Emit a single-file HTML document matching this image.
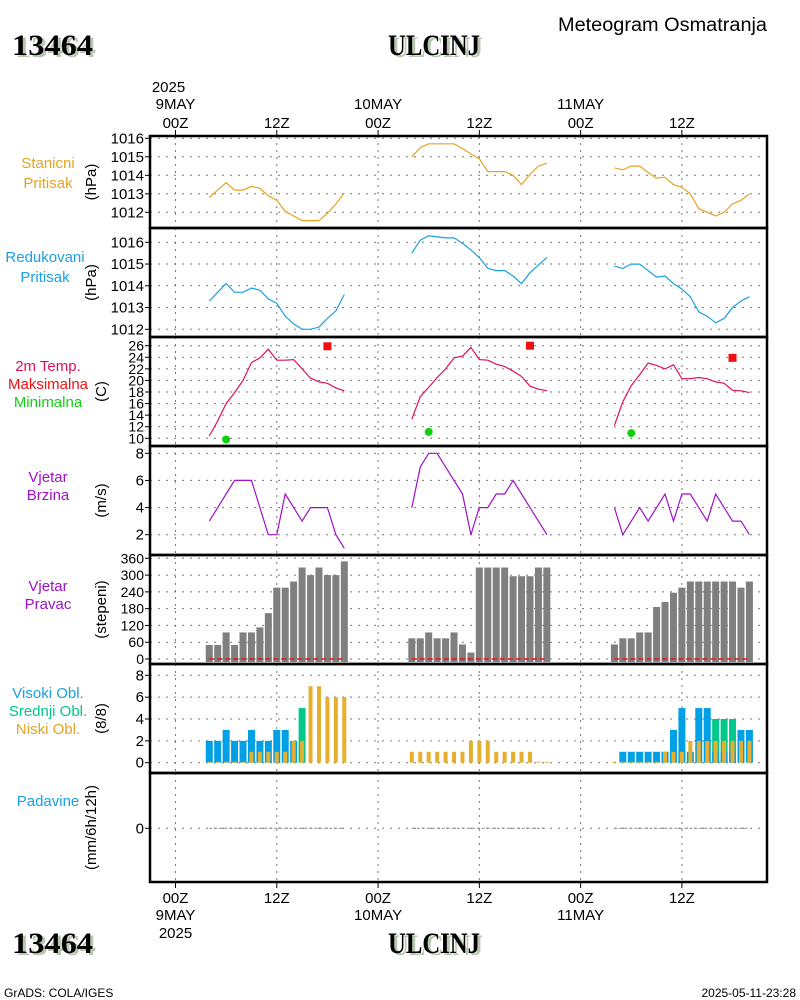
<!DOCTYPE html>
<html><head><meta charset="utf-8">
<style>
html,body{margin:0;padding:0;background:#fff;}
svg{display:block;font-family:"Liberation Sans Narrow","Liberation Sans",sans-serif;}
.tt{font-family:"Liberation Serif",serif;font-weight:bold;font-size:30px;}
</style></head>
<body>
<svg id="chart" width="800" height="1000" viewBox="0 0 800 1000" xmlns="http://www.w3.org/2000/svg">
<g>
<text x="15" y="57" class="tt" fill="#b8c8b0" textLength="81" lengthAdjust="spacingAndGlyphs">13464</text>
<text x="12" y="55" class="tt" fill="#000" textLength="81" lengthAdjust="spacingAndGlyphs">13464</text>
<text x="391" y="57" class="tt" fill="#b8c8b0" textLength="92" lengthAdjust="spacingAndGlyphs">ULCINJ</text>
<text x="388" y="55" class="tt" fill="#000" textLength="92" lengthAdjust="spacingAndGlyphs">ULCINJ</text>
<text x="558" y="31" font-size="19" fill="#000" textLength="209" lengthAdjust="spacingAndGlyphs">Meteogram Osmatranja</text>
</g>
<g id="g"></g>
<g>
<text x="15" y="955" class="tt" fill="#b8c8b0" textLength="81" lengthAdjust="spacingAndGlyphs">13464</text>
<text x="12" y="953" class="tt" fill="#000" textLength="81" lengthAdjust="spacingAndGlyphs">13464</text>
<text x="391" y="955" class="tt" fill="#b8c8b0" textLength="92" lengthAdjust="spacingAndGlyphs">ULCINJ</text>
<text x="388" y="953" class="tt" fill="#000" textLength="92" lengthAdjust="spacingAndGlyphs">ULCINJ</text>
<text x="4" y="997" font-size="12">GrADS: COLA/IGES</text>
<text x="796" y="997" font-size="12" text-anchor="end">2025-05-11-23:28</text>
</g>
</svg>
<script>
// Time: hours from 9MAY 00Z
const days=[4,28,52];
const stanicni=[
[1012.8,1013.2,1013.6,1013.2,1013.2,1013.4,1013.3,1012.9,1012.65,1012.05,1011.8,1011.55,1011.55,1011.55,1011.95,1012.45,1013.05],
[1015.0,1015.5,1015.7,1015.7,1015.7,1015.7,1015.45,1015.15,1014.9,1014.2,1014.2,1014.2,1014.0,1013.5,1014.05,1014.5,1014.65],
[1014.4,1014.3,1014.5,1014.5,1014.15,1013.85,1013.9,1013.5,1013.35,1013.0,1012.2,1012.0,1011.8,1012.0,1012.45,1012.65,1013.0]];
const redukovani=[
[1013.3,1013.7,1014.1,1013.7,1013.7,1013.9,1013.8,1013.4,1013.2,1012.6,1012.25,1012.0,1012.0,1012.1,1012.5,1012.85,1013.6],
[1015.5,1016.1,1016.3,1016.25,1016.2,1016.2,1015.95,1015.65,1015.3,1014.8,1014.7,1014.7,1014.45,1014.1,1014.6,1014.95,1015.3],
[1014.9,1014.8,1015.0,1015.0,1014.7,1014.4,1014.45,1014.1,1013.85,1013.5,1012.8,1012.6,1012.3,1012.5,1013.0,1013.3,1013.5]];
const temp=[
[10.4,13.0,16.0,17.9,20.0,23.1,23.9,25.4,23.5,23.5,23.6,22.0,20.4,19.75,19.5,18.7,18.2],
[13.3,17.2,18.8,20.5,22.0,23.9,24.2,25.7,23.6,23.5,22.8,22.4,21.6,20.7,19.0,18.5,18.2],
[12.2,16.3,19.1,21.0,23.0,22.6,22.0,22.7,20.3,20.3,20.5,20.3,19.75,19.5,18.3,18.2,17.9]];
const tmaxHour=[18,42,66], tmaxVal=[25.9,26.0,23.9];
const tminHour=[6,30,54], tminVal=[9.8,11.1,10.9];
const wspd=[
[3,4,5,6,6,6,4,2,2,5,4,3,4,4,4,2,1],
[4,7,8,8,7,6,5,2,4,4,5,5,6,5,4,3,2],
[4,2,3,4,3,4,5,3,5,5,4,3,5,4,3,3,2]];
const wdir=[
[50,50,95,50,95,95,113,164,255,255,277,327,300,327,300,300,349],
[74,74,95,74,74,95,52,23,327,327,327,327,296,296,296,327,327],
[52,74,74,95,95,186,204,237,255,277,277,277,277,277,277,255,277]];
const cHigh=[
[2,2,3,2,2,3,2,2,3,3,2,0,0,0,0,0,0],
[0,0,0,0,0,0,0,0,0,0,0,0,0,0,0,0,0],
[0,1,1,1,1,1,1,3,5,1,5,5,1,1,1,3,3]];
const cMid=[
[0,0,0,0,0,0,0,0,0,0,0,5,0,0,0,0,0],
[0,0,0,0,0,0,0,0,0,0,0,0,0,0,0,0,0],
[0,0,0,0,0,0,0,0,0,0,0,0,4,4,4,0,0]];
const cLow=[
[0,0,0,0,0,1,1,1,1,1,2,2,7,7,6,6,6],
[1,1,1,1,1,1,1,2,2,2,1,1,1,1,1,0,0],
[0,0,0,0,0,0,1,1,1,2,2,2,2,2,2,2,2]];
const precip=[[0],[0],[0]];

const X0=150,X1=767;
const xh=h=>175.5+h*8.44;
const NS='http://www.w3.org/2000/svg';
const G=document.getElementById('g');
function el(tag,attrs,parent){const e=document.createElementNS(NS,tag);for(const k in attrs)e.setAttribute(k,attrs[k]);(parent||G).appendChild(e);return e;}
function lin(v0,y0,v1,y1){return v=>y0+(v-v0)*(y1-y0)/(v1-v0);}

const panels=[
{name:'station-pressure',top:136,bot:228,ticks:[1012,1013,1014,1015,1016],y:lin(1012,212.3,1016,138.3),unit:'(hPa)',labels:[['Stanicni','#e6a321'],['Pritisak','#e6a321']],ly:[168,188]},
{name:'reduced-pressure',top:228,bot:337,ticks:[1012,1013,1014,1015,1016],y:lin(1012,329.3,1016,242.3),unit:'(hPa)',labels:[['Redukovani','#1aa0e6'],['Pritisak','#1aa0e6']],ly:[262,282]},
{name:'temperature',top:337,bot:446,ticks:[10,12,14,16,18,20,22,24,26],y:lin(10,438.3,26,345.7),unit:'(C)',labels:[['2m Temp.','#e0105a'],['Maksimalna','#f01010'],['Minimalna','#10d010']],ly:[371,389,407],small:true},
{name:'wind-speed',top:446,bot:555,ticks:[2,4,6,8],y:lin(2,534.7,8,453.3),unit:'(m/s)',labels:[['Vjetar','#a010c8'],['Brzina','#a010c8']],ly:[482,500]},
{name:'wind-direction',top:555,bot:664,ticks:[0,60,120,180,240,300,360],y:lin(0,659,360,558.3),unit:'(stepeni)',labels:[['Vjetar','#a010c8'],['Pravac','#a010c8']],ly:[591,609],small:true},
{name:'cloud-cover',top:664,bot:773,ticks:[0,2,4,6,8],y:lin(0,762.7,8,675.3),unit:'(8/8)',labels:[['Visoki Obl.','#1aa0e6'],['Srednji Obl.','#00c88c'],['Niski Obl.','#e6a321']],ly:[698,716,734]},
{name:'precipitation',top:773,bot:882,ticks:[0],y:v=>828.3-v*20,unit:'(mm/6h/12h)',labels:[['Padavine','#1aa0e6']],ly:[806]}
];
const gridX=[0,12,24,36,48,60];
panels.forEach((p,pi)=>{
  const g=el('g',{});
  
  
  gridX.forEach(h=>{const l=el('line',{x1:xh(h),x2:xh(h),y1:p.top,y2:p.bot,stroke:'#777','stroke-width':1,'stroke-dasharray':'2,5'},g);
    });
  p.ticks.forEach(t=>{const y=p.y(t);
    const l=el('line',{x1:X0,x2:X1,y1:y,y2:y,stroke:'#777','stroke-width':1,'stroke-dasharray':'2,6'},g);
    
    el('line',{x1:X0-5,x2:X0,y1:y,y2:y,stroke:'#000'},g);
    const tx=el('text',{x:X0-6,y:y+5,'text-anchor':'end','font-size':p.small?14:15,fill:'#000'},g);
    
    tx.textContent=t;
  });
  const ux=p.ticks.length>1&&p.ticks[p.ticks.length-1]>=1000?98:(p.name==='precipitation'?98:108);
  const cy=(p.top+p.bot)/2;
  const ut=el('text',{x:ux-2,y:cy,'text-anchor':'middle','font-size':15,transform:`rotate(-90 ${ux-2} ${cy})`,fill:'#000'},g);
  
  ut.textContent=p.unit;
  p.labels.forEach((lb,i)=>{
    const t=el('text',{x:p.name==='reduced-pressure'?45:48,y:p.ly[i],'text-anchor':'middle','font-size':15,fill:lb[1]},g);
    
    t.textContent=lb[0];
  });
  p.g=g;
});
function line(series,p,color,name){
  series.forEach((s,d)=>{
    const pts=s.map((v,i)=>xh(days[d]+i).toFixed(1)+','+p.y(v).toFixed(1)).join(' ');
    const l=el('polyline',{points:pts,fill:'none',stroke:color,'stroke-width':1.2},p.g);
    
  });
}
line(stanicni,panels[0],'#e6a321','station-pressure-line');
line(redukovani,panels[1],'#1aa0e6','reduced-pressure-line');
line(temp,panels[2],'#e0105a','temperature-line');
tmaxHour.forEach((h,i)=>{const r=el('rect',{x:xh(h)-4,y:panels[2].y(tmaxVal[i])-4,width:8,height:8,fill:'#ee1111'},panels[2].g);
  });
tminHour.forEach((h,i)=>{const c=el('circle',{cx:xh(h),cy:panels[2].y(tminVal[i]),r:4,fill:'#10d010'},panels[2].g);
  });
line(wspd,panels[3],'#a010c8','wind-speed-line');
wdir.forEach((s,d)=>{const p=panels[4];
  s.forEach((v,i)=>{const x=xh(days[d]+i);
    const r=el('rect',{x:x-3.5,y:p.y(v),width:7,height:p.y(0)-p.y(v)+3,fill:'#7f7f7f'},p.g);
    });
  const l=el('line',{x1:xh(days[d]),x2:xh(days[d]+16),y1:p.y(0),y2:p.y(0),stroke:'#ee1111','stroke-width':1.5,'stroke-dasharray':'5,3'},p.g);
  
});
[0,1,2].forEach(d=>{const p=panels[5];
  for(let i=0;i<17;i++){const x=xh(days[d]+i);const y0=p.y(0);
    if(cMid[d][i]>0){const r=el('rect',{x:x-3.5,y:p.y(cMid[d][i]),width:7,height:y0-p.y(cMid[d][i]),fill:'#00c88c'},p.g);
      }
    if(cHigh[d][i]>0){const r=el('rect',{x:x-3.5,y:p.y(cHigh[d][i]),width:7,height:y0-p.y(cHigh[d][i]),fill:'#00a0e6'},p.g);
      }
    const v=cLow[d][i];const yy=v>0?p.y(v):y0-1;
    const r=el('rect',{x:x-2,y:yy,width:4,height:y0-yy,fill:'#e6af2d'},p.g);
    
  }});
precip.forEach((s,d)=>{const p=panels[6];
  const l=el('line',{x1:xh(days[d]),x2:xh(days[d]+16),y1:p.y(s[0]),y2:p.y(s[0]),stroke:'#888','stroke-width':1,'stroke-dasharray':'3,2'},p.g);
  });
// frames
panels.forEach(p=>{const r=el('rect',{x:X0,y:p.top,width:X1-X0,height:p.bot-p.top,fill:'none',stroke:'#000','stroke-width':2.5});
  });
// x axis labels
const xLab=['00Z','12Z','00Z','12Z','00Z','12Z'];
const dayLab={0:'9MAY',24:'10MAY',48:'11MAY'};
gridX.forEach((h,i)=>{const x=xh(h);
  el('line',{x1:x,x2:x,y1:130,y2:136,stroke:'#000'});el('line',{x1:x,x2:x,y1:882,y2:888,stroke:'#000'});
  let t=el('text',{x:x,y:128,'text-anchor':'middle','font-size':15});t.textContent=xLab[i];
  
  t=el('text',{x:x,y:903,'text-anchor':'middle','font-size':15});t.textContent=xLab[i];
  
  if(dayLab[h]){
    t=el('text',{x:x,y:109,'text-anchor':'middle','font-size':15});t.textContent=dayLab[h];
    
    t=el('text',{x:x,y:920,'text-anchor':'middle','font-size':15});t.textContent=dayLab[h];
    
  }
});
let t=el('text',{x:xh(0)-7,y:92,'text-anchor':'middle','font-size':15});t.textContent='2025';

t=el('text',{x:xh(0),y:938,'text-anchor':'middle','font-size':15});t.textContent='2025';

</script>
</body></html>
